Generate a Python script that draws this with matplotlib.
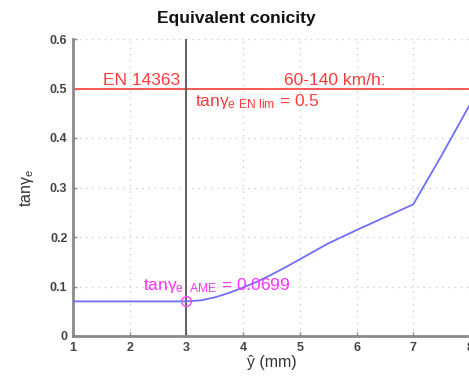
import matplotlib
matplotlib.use("Agg")
import matplotlib.pyplot as plt

plt.rcParams['font.family'] = ['Liberation Sans', 'DejaVu Sans']
plt.rcParams['mathtext.fontset'] = 'custom'
plt.rcParams['mathtext.rm'] = 'Liberation Sans'
plt.rcParams['mathtext.it'] = 'Liberation Sans'
plt.rcParams['mathtext.default'] = 'regular'

# data
y_hat = [1, 1.5, 2, 2.5, 3, 3.25, 3.5, 3.75, 4, 4.25, 4.5, 4.75, 5, 5.5, 6, 6.5, 7, 7.5, 8]
conicity = [0.0699, 0.0699, 0.0699, 0.0699, 0.0699, 0.072, 0.078, 0.087, 0.098, 0.110,
            0.124, 0.139, 0.155, 0.187, 0.214, 0.240, 0.266, 0.365, 0.468]
en_limit = 0.5
y_ref = 3
tan_ame = 0.0699
x_ticks = [1, 2, 3, 4, 5, 6, 7, 8]
y_ticks = [0, 0.1, 0.2, 0.3, 0.4, 0.5, 0.6]
y_ticklabels = ['0', '0.1', '0.2', '0.3', '0.4', '0.5', '0.6']

fig = plt.figure(figsize=(4.69, 3.79), dpi=100)
ax = fig.add_axes([73/469, 1-336/379, (470-73)/469, (336-39)/379])

ax.plot(y_hat, conicity, color='#6f6fff', lw=1.3, zorder=3)
ax.axhline(en_limit, color='#ff4a4a', lw=1.3, zorder=2)
ax.axvline(y_ref, color='#555555', lw=1.3, zorder=2)
ax.plot([y_ref], [tan_ame], marker='o', ms=7, mfc='none', mec='#ff44ff', mew=1.0, zorder=4)

ax.set_xlim(1, 8)
ax.set_ylim(0, 0.6)
ax.set_xticks(x_ticks)
ax.set_xticklabels([str(t) for t in x_ticks])
ax.set_yticks(y_ticks)
ax.set_yticklabels(y_ticklabels)
ax.grid(True, ls=(0, (1, 4)), color='#c8c8c8', lw=0.9)
for s in ['top', 'right']:
    ax.spines[s].set_visible(False)
for s in ['left', 'bottom']:
    ax.spines[s].set_color('#8a8a8a')
    ax.spines[s].set_linewidth(2)
ax.tick_params(direction='in', length=3, width=1, colors='#8a8a8a', labelcolor='#444444',
               labelsize=9, pad=4)
for lbl in ax.get_xticklabels() + ax.get_yticklabels():
    lbl.set_fontweight('bold')

fig.text(236/469, 1-18/379, 'Equivalent conicity', fontsize=12.5, fontweight='bold',
         ha='center', va='center', color='#111111')
ax.set_xlabel('ŷ (mm)', fontsize=11.5, color='#333333', labelpad=1)
ax.set_ylabel(r'tan$\gamma_{e}$', fontsize=11.5, color='#333333', labelpad=10)

red = '#ff3b3b'
ax.text(2.89, 0.508, 'EN 14363', color=red, fontsize=12.5, ha='right', va='baseline')
ax.text(5.62, 0.508, '60-140 km/h:', color=red, fontsize=12.5, ha='center', va='baseline')
ax.text(3.15, 0.465, r'tan$\gamma_{e\ EN\ lim}$ = 0.5', color=red, fontsize=12.5, ha='left', va='baseline')
ax.text(2.24, 0.092, r'tan$\gamma_{e\ \ AME}$ = 0.0699', color='#ff33ff', fontsize=12.5, ha='left', va='baseline')

fig.savefig('out.png', dpi=100)
